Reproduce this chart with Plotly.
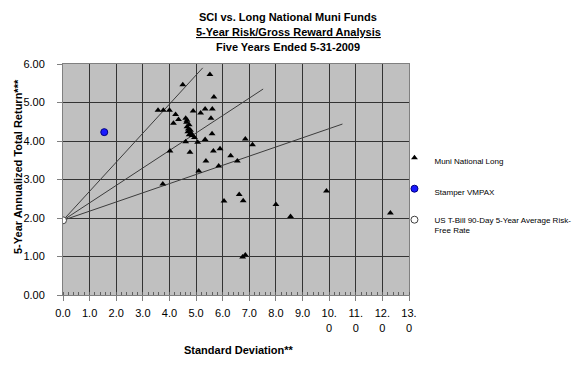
import plotly.graph_objects as go

# Muni National Long funds (std dev, 5-yr return)
muni_sd = [5.52, 4.50, 5.67, 3.57, 3.77, 4.00, 4.89, 5.34, 5.61, 5.17, 4.23, 4.34, 4.15,
           4.61, 4.66, 4.64, 4.74, 4.66, 4.71, 4.79, 4.69, 4.81, 4.74, 4.86, 4.94, 5.56,
           5.60, 5.34, 5.06, 4.61, 4.77, 4.02, 5.65, 5.90, 6.30, 6.55, 5.37, 5.10, 5.85,
           3.75, 6.85, 7.12, 6.05, 6.62, 6.77, 8.00, 8.55, 9.90, 12.30, 6.75, 6.85]
muni_ret = [5.73, 5.46, 5.14, 4.80, 4.80, 4.80, 4.78, 4.83, 4.83, 4.73, 4.69, 4.56, 4.46,
            4.59, 4.54, 4.49, 4.42, 4.37, 4.31, 4.28, 4.24, 4.21, 4.16, 4.14, 4.09, 4.59,
            4.19, 4.04, 3.97, 3.98, 3.71, 3.74, 3.74, 3.80, 3.62, 3.48, 3.48, 3.22, 3.35,
            2.88, 4.05, 3.90, 2.44, 2.61, 2.45, 2.35, 2.04, 2.70, 2.13, 0.99, 1.04]

stamper_sd = [1.55]
stamper_ret = [4.23]

rf_sd = [0.0]
rf_ret = [1.94]

# Capital-market lines from risk-free point to end points
line_end_sd = [5.25, 7.52, 10.50]
line_end_ret = [5.90, 5.35, 4.44]

x_tickvals = list(range(0, 14))
x_ticktext = ["0.0", "1.0", "2.0", "3.0", "4.0", "5.0", "6.0", "7.0", "8.0", "9.0",
              "10.<br>0", "11.<br>0", "12.<br>0", "13.<br>0"]
y_tickvals = [0, 1, 2, 3, 4, 5, 6]
y_ticktext = ["0.00", "1.00", "2.00", "3.00", "4.00", "5.00", "6.00"]

FONT = "Liberation Sans, Arial, sans-serif"

fig = go.Figure()

for xe, ye in zip(line_end_sd, line_end_ret):
    fig.add_trace(go.Scatter(x=[rf_sd[0], xe], y=[rf_ret[0], ye], mode="lines",
                             line=dict(color="#3c3c3c", width=1), showlegend=False,
                             hoverinfo="skip"))

fig.add_trace(go.Scatter(x=muni_sd, y=muni_ret, mode="markers", name="Muni National Long",
                         legendgroup="a",
                         marker=dict(symbol="triangle-up", size=6, color="black",
                                     line=dict(width=0))))
fig.add_trace(go.Scatter(x=stamper_sd, y=stamper_ret, mode="markers", name="Stamper VMPAX",
                         legendgroup="b",
                         marker=dict(symbol="circle", size=7, color="#1a1aff",
                                     line=dict(color="#000080", width=1))))
fig.add_trace(go.Scatter(x=rf_sd, y=rf_ret, mode="markers",
                         name="US T-Bill 90-Day 5-Year Average Risk-<br>Free Rate",
                         legendgroup="c",
                         marker=dict(symbol="circle", size=7, color="white",
                                     line=dict(color="#404040", width=1))))

fig.update_layout(
    width=576, height=366,
    margin=dict(l=63, r=167, t=64, b=71, autoexpand=False),
    paper_bgcolor="white",
    plot_bgcolor="#c0c0c0",
    font=dict(family=FONT, size=11, color="black"),
    showlegend=True,
    legend=dict(x=0.958, y=(295 - 146) / 231, xanchor="left", yanchor="top",
                font=dict(family=FONT, size=8, color="black"),
                bgcolor="rgba(0,0,0,0)", traceorder="grouped",
                tracegroupgap=12, itemwidth=30, valign="top"),
    annotations=[
        dict(text="<b>SCI vs. Long National Muni Funds</b>", xref="paper", yref="paper",
             x=(288 - 63) / 346, y=(295 - 17) / 231, showarrow=False,
             font=dict(size=11), xanchor="center", yanchor="middle"),
        dict(text="<b><span style='text-decoration:underline'>5-Year Risk/Gross Reward Analysis</span></b>",
             xref="paper", yref="paper",
             x=(288 - 63) / 346, y=(295 - 32) / 231, showarrow=False,
             font=dict(size=11), xanchor="center", yanchor="middle"),
        dict(text="<b>Five Years Ended 5-31-2009</b>", xref="paper", yref="paper",
             x=(288 - 63) / 346, y=(295 - 47) / 231, showarrow=False,
             font=dict(size=11), xanchor="center", yanchor="middle"),
        dict(text="<b>5-Year Annualized Total Return***</b>", xref="paper", yref="paper",
             x=(18 - 63) / 346, y=(295 - 167) / 231, showarrow=False, textangle=-90,
             font=dict(size=11), xanchor="center", yanchor="middle"),
        dict(text="<b>Standard Deviation**</b>", xref="paper", yref="paper",
             x=(239 - 63) / 346, y=(295 - 350) / 231, showarrow=False,
             font=dict(size=11), xanchor="center", yanchor="middle"),
    ],
)

fig.update_xaxes(range=[0, 13], tickvals=x_tickvals, ticktext=x_ticktext,
                 automargin=False,
                 showgrid=True, gridcolor="#333333", gridwidth=1,
                 zeroline=False, showline=True, linecolor="#808080", linewidth=1,
                 mirror=True, ticks="outside", ticklen=5, tickcolor="#808080",
                 ticklabelstandoff=3,
                 minor=dict(dtick=0.2, ticks="inside", ticklen=3, tickcolor="#606060",
                            showgrid=False),
                 tickfont=dict(size=11))
fig.update_yaxes(range=[0, 6], tickvals=y_tickvals, ticktext=y_ticktext,
                 automargin=False,
                 showgrid=True, gridcolor="#333333", gridwidth=1,
                 zeroline=False, showline=True, linecolor="#808080", linewidth=1,
                 mirror=True, ticks="outside", ticklen=5, tickcolor="#808080",
                 ticklabelstandoff=10, tickfont=dict(size=11))

fig.write_html("out.html",
               config={"displayModeBar": False},
               post_script="document.body.style.margin='0';"
                           "document.body.style.overflow='hidden';")
